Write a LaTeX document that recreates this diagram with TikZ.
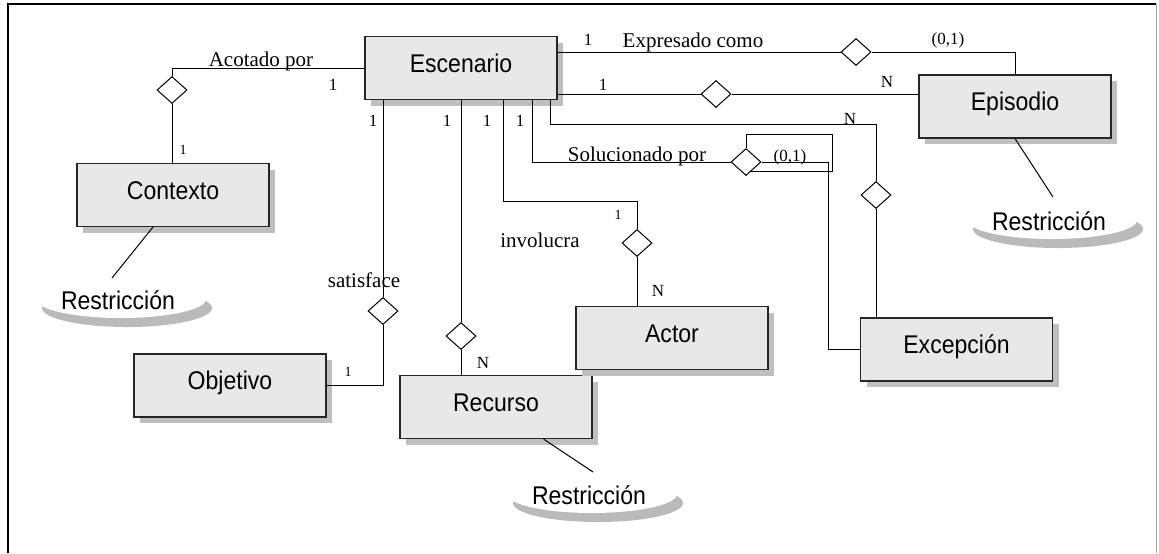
\documentclass[tikz,border=0pt]{standalone}
\usepackage{fontspec}
\setmainfont{Liberation Serif}
\newfontfamily\boxfont[FakeStretch=0.9]{Liberation Sans}
\usetikzlibrary{shapes.geometric,shadows}

\tikzset{
  entidad/.style={draw=black!85, line width=0.6pt, fill=black!9,
    minimum width=96pt, minimum height=31.5pt, inner sep=0pt,
    text height=9pt, text depth=5pt,
    font=\boxfont\fontsize{12.8}{14}\selectfont,
    general shadow={fill=black!25, shadow xshift=3pt, shadow yshift=-3pt}},
  rombo/.style={diamond, draw, fill=white, line width=0.5pt, inner sep=0pt,
    minimum width=15pt, minimum height=13.5pt},
  rel/.style={font=\fontsize{10.5}{12}\selectfont, inner sep=0pt, anchor=base},
  card/.style={font=\fontsize{8.5}{10}\selectfont, inner sep=0pt, anchor=base},
  cardp/.style={font=\fontsize{7}{8}\selectfont, inner sep=0pt, anchor=base},
  restr/.style={font=\boxfont\fontsize{12.8}{14}\selectfont, inner sep=0pt,
    text height=9pt, text depth=0pt},
  swoosh/.pic={
    \begin{scope}
      \clip (-100,-8) rectangle (100,40);
      \fill[black!27] (6,9) ellipse [x radius=85, y radius=19];
      \fill[white] (0,0) ellipse [x radius=85, y radius=19];
    \end{scope}
  }
}

\begin{document}
\begin{tikzpicture}[x=0.5pt, y=-0.5pt, line width=0.5pt]
  \useasboundingbox (0,0) rectangle (1159,553);
  % marco
  \draw[line width=1.2pt] (8,553) -- (8,4) -- (1156,4);
  \draw[black!35] (1156,4) -- (1156,553);

  % restricciones
  \pic at (121,299) {swoosh};
  \pic at (1052,220) {swoosh};
  \pic at (592,494) {swoosh};
  \node[restr] (rctx) at (118,300) {Restricción};
  \node[restr] (repi) at (1049,221) {Restricción};
  \node[restr] (rrec) at (589,495) {Restricción};

  % entidades
  \node[entidad] (esc) at (461,68) {Escenario};
  \node[entidad] (ctx) at (173,195) {Contexto};
  \node[entidad] (obj) at (230,385.5) {Objetivo};
  \node[entidad] (rec) at (496,407) {Recurso};
  \node[entidad] (act) at (672,338) {Actor};
  \node[entidad] (exc) at (956.5,349.5) {Excepción};
  \node[entidad] (epi) at (1015,106.5) {Episodio};

  % relaciones
  \node[rombo] (dAco) at (172,90) {};
  \node[rombo] (dExp) at (856,52) {};
  \node[rombo] (dEpi) at (716,94) {};
  \node[rombo] (dExc) at (876,195) {};
  \node[rombo] (dSol) at (746,162) {};
  \node[rombo] (dInv) at (637,243) {};
  \node[rombo] (dRec) at (461,336) {};
  \node[rombo] (dSat) at (383,311) {};

  \coordinate (cExc) at (550,124);
  \coordinate (cSol) at (532,162);
  \coordinate (kSol) at (828,162);
  \coordinate (lSol) at (832,134);
  \coordinate (cInv) at (503,201);
  \coordinate (tctx) at (112,278);
  \coordinate (tepi) at (1053,197);
  \coordinate (trec) at (593,472);

  % conectores
  \draw (esc.west) -| (dAco.north);
  \draw (dAco.south) -- (ctx.north -| dAco);
  \draw (esc.east |- dExp) -- (dExp.west);
  \draw (dExp.east) -| (epi.north);
  \draw (esc.east |- dEpi) -- (dEpi.west);
  \draw (dEpi.east) -- (epi.west |- dEpi);
  \draw (esc.south -| cExc) -- (cExc) -| (dExc.north);
  \draw (dExc.south) -- (exc.north -| dExc);
  \draw (esc.south -| cSol) |- (dSol.west);
  \draw (dSol.east) -- (kSol) |- (exc.west);
  \draw (dSol.north) |- (lSol) |- (dSol.-61);
  \draw (esc.south -| cInv) -- (cInv) -| (dInv.north);
  \draw (dInv.south) -- (act.north -| dInv);
  \draw (esc.south -| dRec) -- (dRec.north);
  \draw (dRec.south) -- (rec.north -| dRec);
  \draw (esc.south -| dSat) -- (dSat.north);
  \draw (dSat.south) |- (obj.east);
  \draw (ctx.238) -- (tctx);
  \draw (epi.south) -- (tepi);
  \draw (rec.-34) -- (trec);

  % etiquetas
  \node[rel] (lAco) at (261,66) {Acotado por};
  \node[rel] (lExp) at (693,47) {Expresado como};
  \node[rel] (lSol) at (637,161) {Solucionado por};
  \node[rel] (lInv) at (540,247) {involucra};
  \node[rel] (lSat) at (364,287) {satisface};
  \node[card] (c1) at (333,90) {1};
  \node[cardp] (c2) at (183,154) {1};
  \node[card] (c3) at (588,45) {1};
  \node[card] (c4) at (948,44) {(0,1)};
  \node[card] (c5) at (603,90) {1};
  \node[card] (c6) at (887,87) {N};
  \node[card] (c7) at (850,124) {N};
  \node[card] (c8) at (790,161) {(0,1)};
  \node[cardp] (c9) at (618,219) {1};
  \node[card] (c10) at (658,296) {N};
  \node[card] (c11) at (483,368) {N};
  \node[cardp] (c12) at (348,376) {1};
  \foreach \x [count=\i] in {373,447,487,520}
    \node[card] (u\i) at (\x,126) {1};
\end{tikzpicture}
\end{document}
